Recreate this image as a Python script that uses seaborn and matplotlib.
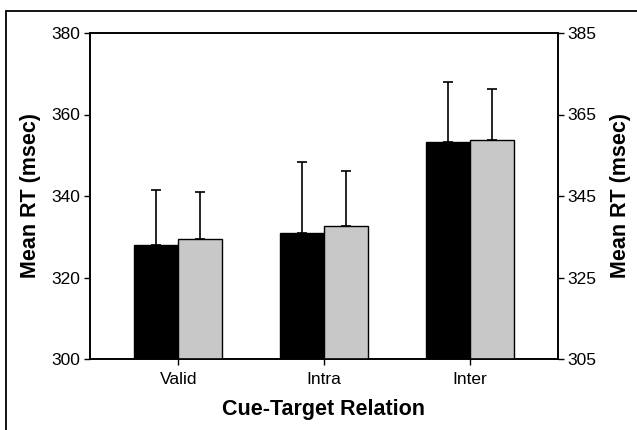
import numpy as np
import pandas as pd
import seaborn as sns
import matplotlib.pyplot as plt
from matplotlib.patches import Rectangle

# === data ===
relations = ["Valid", "Intra", "Inter"]
series = ["Left", "Right"]
left_means = [328.0, 330.9, 353.3]     # black bars, left axis
left_err = [13.4, 17.4, 14.6]
right_means = [334.4, 337.7, 358.7]    # grey bars, right axis
right_err = [11.6, 13.4, 12.6]
left_ticks = [300, 320, 340, 360, 380]
right_ticks = [305, 325, 345, 365, 385]

sns.set_theme(style="ticks")
plt.rcParams["font.family"] = ["Liberation Sans", "DejaVu Sans"]
plt.rcParams["text.color"] = "black"
plt.rcParams["axes.labelcolor"] = "black"
plt.rcParams["xtick.color"] = "black"
plt.rcParams["ytick.color"] = "black"

df_left = pd.DataFrame({"Relation": relations, "Series": "Left", "RT": left_means})
df_right = pd.DataFrame({"Relation": relations, "Series": "Right", "RT": right_means})

fig = plt.figure(figsize=(6.37, 4.30), dpi=100)
ax = fig.add_axes([90 / 637, 1 - 359 / 430, (558 - 90) / 637, (359 - 33) / 430])
ax2 = ax.twinx()

pal = {"Left": "black", "Right": "#c8c8c8"}
sns.barplot(data=df_left, x="Relation", y="RT", hue="Series", hue_order=series,
            order=relations, palette=pal, width=0.6, dodge=True, edgecolor="black",
            linewidth=1.0, errorbar=None, legend=False, ax=ax)
sns.barplot(data=df_right, x="Relation", y="RT", hue="Series", hue_order=series,
            order=relations, palette=pal, width=0.6, dodge=True, edgecolor="black",
            linewidth=1.0, errorbar=None, legend=False, ax=ax2)

# upward-only error bars at the bar centres (drawn under the bars)
for a, means, errs in [(ax, left_means, left_err), (ax2, right_means, right_err)]:
    bars = [p for p in a.patches if p.get_height() > 0]
    bars = sorted(bars, key=lambda p: p.get_x())
    xs = [p.get_x() + p.get_width() / 2 for p in bars]
    a.errorbar(xs, means, yerr=[np.zeros(len(errs)), errs], fmt="none",
               ecolor="black", elinewidth=1.2, capsize=3.6, capthick=1.2, zorder=0.5)

ax.set_ylim(300, 380)
ax2.set_ylim(305, 385)
ax.set_yticks(left_ticks)
ax2.set_yticks(right_ticks)
ax.set_xlim(-0.605, 2.605)

ax.set_xlabel("Cue-Target Relation", fontsize=15.5, fontweight="bold", labelpad=9)
ax.set_ylabel("Mean RT (msec)", fontsize=15.5, fontweight="bold", labelpad=7.5)
ax2.set_ylabel("Mean RT (msec)", fontsize=15.5, fontweight="bold", rotation=90, labelpad=9.5)

for a in (ax, ax2):
    a.tick_params(axis="both", labelsize=12.5, length=4, width=1, color="black",
                  labelcolor="black", direction="out", pad=3)
    for s in a.spines.values():
        s.set_linewidth(1.2)
        s.set_color("black")
        s.set_visible(True)
ax.tick_params(axis="x", pad=5)

# frame round the whole figure
fig.patches.append(Rectangle((6 / 637, -0.1), 1.2, 1.1 - 11 / 430,
                             transform=fig.transFigure, fill=False,
                             edgecolor="black", linewidth=1.3, clip_on=False))

plt.savefig("out.png", dpi=100)
